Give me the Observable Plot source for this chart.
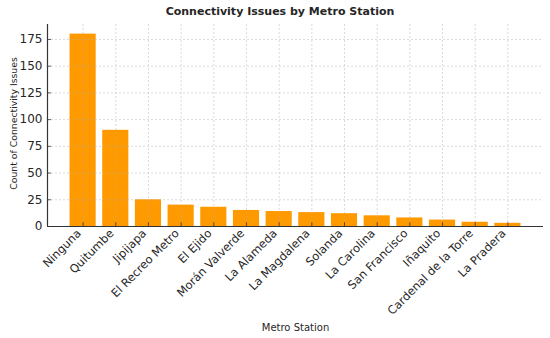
<!DOCTYPE html>
<html>
<head>
<meta charset="utf-8">
<script src="https://cdn.jsdelivr.net/npm/d3@7"></script>
<script src="https://cdn.jsdelivr.net/npm/@observablehq/plot@0.6"></script>
<style>
  html, body { margin: 0; padding: 0; background: #fff; }
  #chart { width: 550px; height: 338px; position: relative; }
  .title { position: absolute; left: 0; width: 560px; top: 5px; text-align: center;
    font-family: "DejaVu Sans", sans-serif; font-weight: bold; font-size: 11px; color: #262626; }
</style>
</head>
<body>
<div id="chart"><div class="title">Connectivity Issues by Metro Station</div></div>
<script>
const stations = ["Ninguna", "Quitumbe", "Jipijapa", "El Recreo Metro", "El Ejido", "Morán Valverde",
  "La Alameda", "La Magdalena", "Solanda", "La Carolina", "San Francisco", "Iñaquito",
  "Cardenal de la Torre", "La Pradera"];
const counts = [180, 90, 25, 20, 18, 15, 14, 13, 12, 10, 8, 6, 4, 3];
const yTicks = [0, 25, 50, 75, 100, 125, 150, 175];

const data = stations.map((s, i) => ({station: s, i, count: counts[i]}));
const idx = stations.map((s, i) => i);
const xMin = -0.4 - 0.05 * (stations.length - 0.2);
const xMax = stations.length - 1 + 0.4 + 0.05 * (stations.length - 0.2);
const tk = (xMax - xMin) / 496 * 4;

const plot = Plot.plot({
  width: 550,
  height: 338,
  marginLeft: 47,
  marginRight: 7,
  marginTop: 24,
  marginBottom: 112,
  style: {fontFamily: "DejaVu Sans, sans-serif", fontSize: "11px", color: "#262626", background: "transparent"},
  x: {domain: [xMin, xMax], label: null},
  y: {domain: [0, 189], label: null},
  marks: [
    Plot.rectY(data, {x1: d => d.i - 0.4, x2: d => d.i + 0.4, y: "count", fill: "#ff9900"}),
    Plot.ruleY(yTicks, {stroke: "#b0b0b0", strokeOpacity: 0.6, strokeDasharray: "2,2", strokeWidth: 0.8}),
    Plot.ruleX(idx, {stroke: "#b0b0b0", strokeOpacity: 0.6, strokeDasharray: "2,2", strokeWidth: 0.8}),
    Plot.axisY({ticks: yTicks, tickSize: 0, tickPadding: 5, fontSize: 12, label: null}),
    Plot.ruleY(yTicks, {x1: xMin, x2: xMin + tk, stroke: "#333", strokeWidth: 0.8}),
    Plot.axisX({ticks: idx, tickFormat: i => stations[i], tickSize: 0, tickRotate: -45, fontSize: 11.5, tickPadding: 5, dx: -4, label: null}),
    Plot.ruleX(idx, {y1: 0, y2: 3.5, stroke: "#333", strokeWidth: 0.8}),
    Plot.ruleY([0], {stroke: "#333", strokeWidth: 1.2}),
    Plot.ruleX([xMin], {stroke: "#333", strokeWidth: 1.2}),
    Plot.text(["Count of Connectivity Issues"], {frameAnchor: "left", textAnchor: "middle", dx: -33, dy: -2, rotate: -90, fontSize: 9.3}),
    Plot.text(["Metro Station"], {frameAnchor: "bottom", textAnchor: "middle", dy: 104, fontSize: 10})
  ]
});
document.getElementById("chart").appendChild(plot);
</script>
</body>
</html>
